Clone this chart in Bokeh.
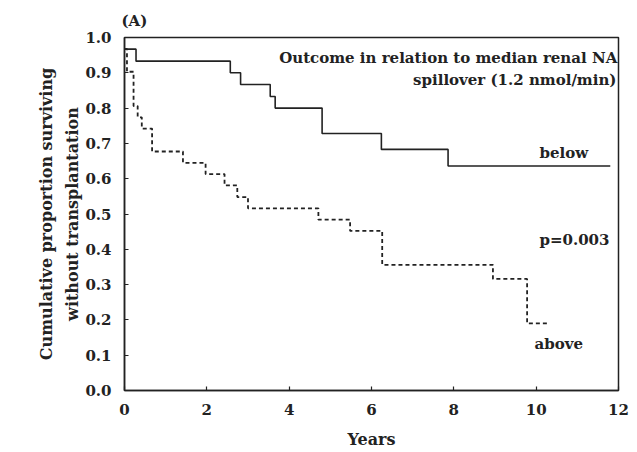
from bokeh.plotting import figure
from bokeh.models import Label, FixedTicker, NumeralTickFormatter, Range1d, Title
from bokeh.embed import file_html
from bokeh.resources import INLINE

# Kaplan-Meier step data (years, cumulative proportion)
below_t = [0, 0.28, 2.57, 2.82, 3.54, 3.66, 4.80, 6.24, 7.86, 11.8]
below_s = [0.967, 0.933, 0.90, 0.867, 0.833, 0.80, 0.728, 0.683, 0.636, 0.636]

above_t = [0, 0.06, 0.22, 0.32, 0.42, 0.67, 1.42, 1.97, 2.43, 2.74, 3.0,
           4.71, 5.48, 6.26, 8.95, 9.78, 10.3]
above_s = [0.968, 0.903, 0.806, 0.774, 0.742, 0.677, 0.645, 0.613, 0.581,
           0.548, 0.516, 0.484, 0.452, 0.356, 0.316, 0.19, 0.19]

x_ticks = [0, 2, 4, 6, 8, 10, 12]
y_ticks = [0.0, 0.1, 0.2, 0.3, 0.4, 0.5, 0.6, 0.7, 0.8, 0.9, 1.0]

FONT = "DejaVu Serif"
INK = "#222222"

p = figure(width=629, height=452, output_backend="svg", toolbar_location=None,
           x_range=Range1d(0, 12), y_range=Range1d(0, 1.0),
           min_border_left=124, min_border_right=11, min_border_top=37,
           min_border_bottom=62)
p.grid.visible = False
p.outline_line_color = INK
p.outline_line_width = 1.5
p.background_fill_color = "white"
p.border_fill_color = "white"

p.title.text = "(A)"
p.title.align = "left"
p.title.text_font = FONT
p.title.text_font_style = "bold"
p.title.text_font_size = "15px"
p.title.text_color = INK
p.title.offset = -3
p.title.standoff = 15

for ax in (p.xaxis[0], p.yaxis[0]):
    ax.major_tick_in = 4
    ax.major_tick_out = 0
    ax.minor_tick_line_color = None
    ax.axis_line_color = INK
    ax.axis_line_width = 1.5
    ax.major_tick_line_color = INK
    ax.major_tick_line_width = 1.2
    ax.major_label_text_font = FONT
    ax.major_label_text_font_style = "bold"
    ax.major_label_text_font_size = "15px"
    ax.major_label_text_color = INK
    ax.axis_label_text_font = FONT
    ax.axis_label_text_font_style = "bold"
    ax.axis_label_text_font_size = "16px"
    ax.axis_label_text_color = INK

p.xaxis.ticker = FixedTicker(ticks=x_ticks)
p.yaxis.ticker = FixedTicker(ticks=y_ticks)
p.yaxis.formatter = NumeralTickFormatter(format="0.0")
p.xaxis.major_label_standoff = 13
p.yaxis.major_label_standoff = 13
p.xaxis.axis_label = "Years"
p.xaxis.axis_label_standoff = 12

ylab2 = Title(text="without transplantation", align="center", offset=18,
              text_font=FONT, text_font_style="bold", text_font_size="16px",
              text_color=INK, standoff=2)
p.add_layout(ylab2, "left")
ylab1 = Title(text="Cumulative proportion surviving", align="center", offset=18,
              text_font=FONT, text_font_style="bold", text_font_size="16px",
              text_color=INK, standoff=8)
p.add_layout(ylab1, "left")

p.step(below_t, below_s, mode="after", line_color=INK, line_width=1.6)
p.step(above_t, above_s, mode="after", line_color=INK, line_width=1.8,
       line_dash="4 3")

def lab(x, y, text, align="center", size="15px"):
    p.add_layout(Label(x=x, y=y, text=text, text_font=FONT,
                       text_font_style="bold", text_font_size=size,
                       text_align=align, text_baseline="middle",
                       text_color=INK))

lab(11.97, 0.943, "Outcome in relation to median renal NA", align="right")
lab(11.95, 0.881, "spillover (1.2 nmol/min)", align="right")
lab(10.67, 0.674, "below")
lab(10.93, 0.425, "p=0.003")
lab(10.55, 0.133, "above")

open("out.html", "w").write(file_html(p, INLINE))
